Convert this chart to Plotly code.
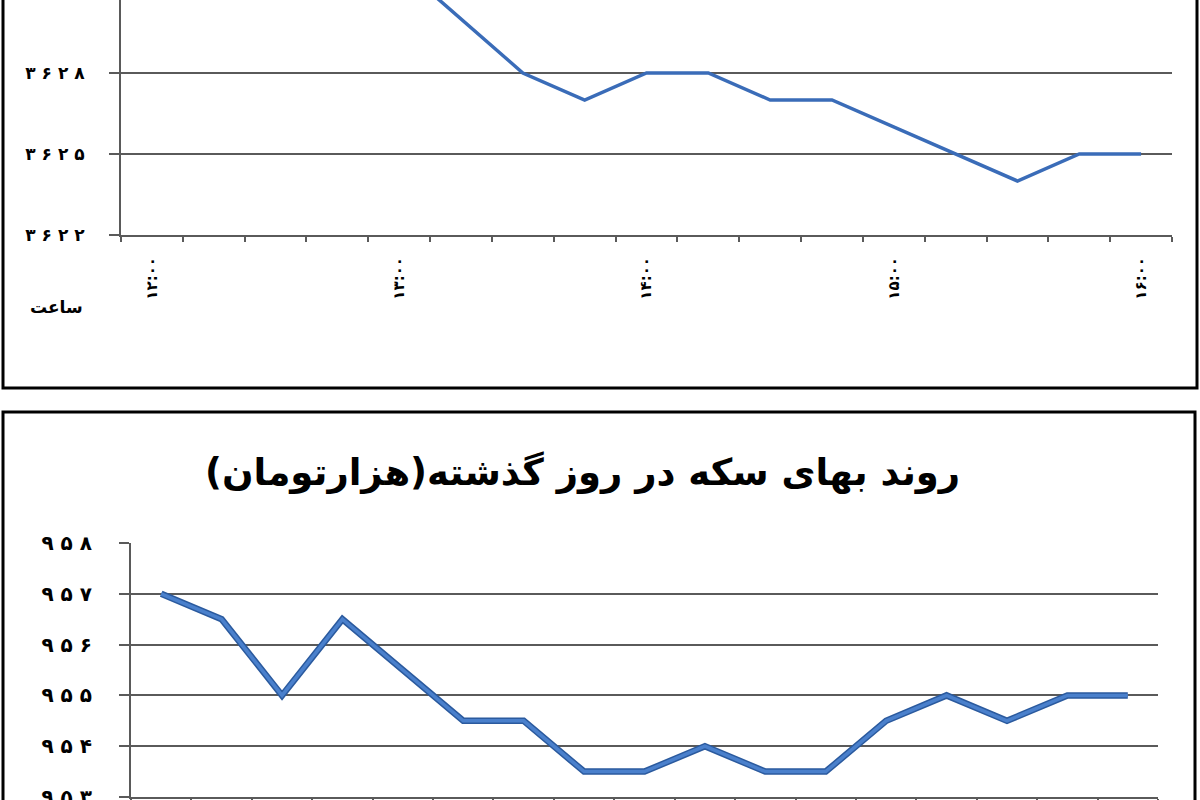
"""
Coin / currency price trend charts (two stacked panels, second one cut off)
"""

import plotly.graph_objects as go

# 15-minute samples between 12:00 and 16:00
times = ["12:00", "12:15", "12:30", "12:45",
         "13:00", "13:15", "13:30", "13:45",
         "14:00", "14:15", "14:30", "14:45",
         "15:00", "15:15", "15:30", "15:45",
         "16:00"]

# top panel (first values are above the visible area)
top_values = [3634, 3634, 3633, 3633, 3632, 3630, 3628, 3627, 3628, 3628,
              3627, 3627, 3626, 3625, 3624, 3625, 3625]
top_yticks = [3622, 3625, 3628]

# bottom panel: coin price (thousand toman)
coin_values = [957, 956.5, 955, 956.5, 955.5, 954.5, 954.5, 953.5, 953.5, 954,
               953.5, 953.5, 954.5, 955, 954.5, 955, 955]
coin_yticks = [953, 954, 955, 956, 957, 958]

coin_title = "روند بهای سکه در روز گذشته(هزارتومان)"
hour_label = "ساعت"

FA_DIGITS = str.maketrans("0123456789", "۰۱۲۳۴۵۶۷۸۹")


def fa(s, spaced=False):
    """Latin digits -> Persian digits"""
    s = str(s).translate(FA_DIGITS)
    return " ".join(s) if spaced else s


W, H = 1200, 800
GRID = "#5a5a5a"
BLUE = "#3a6cb8"
FONT = "DejaVu Sans"


def px_x(a, b):
    return [a / W, b / W]


def px_y(top, bottom):
    return [1 - bottom / H, 1 - top / H]


fig = go.Figure()

fig.add_trace(go.Scatter(
    x=times, y=top_values, mode="lines",
    line=dict(color=BLUE, width=3.5),
    xaxis="x", yaxis="y", showlegend=False
))

# darker edge under the bottom line
fig.add_trace(go.Scatter(
    x=times, y=coin_values, mode="lines",
    line=dict(color="#2b5a9e", width=6.5),
    xaxis="x2", yaxis="y2", showlegend=False
))
fig.add_trace(go.Scatter(
    x=times, y=coin_values, mode="lines",
    line=dict(color="#4a80cc", width=3.5),
    xaxis="x2", yaxis="y2", showlegend=False
))

tick_text = [fa(t) if i % 4 == 0 else "" for i, t in enumerate(times)]

common_x = dict(
    type="category", categoryorder="array", categoryarray=times,
    range=[-0.5, len(times) - 0.5],
    tickmode="array", tickvals=times, tickson="boundaries",
    ticks="outside", ticklen=5, tickwidth=2, tickcolor=GRID,
    showline=True, linecolor=GRID, linewidth=2,
    showgrid=False, zeroline=False, fixedrange=True, automargin=False,
)
common_y = dict(
    tickmode="array", ticks="outside", ticklen=10, tickwidth=2, tickcolor=GRID,
    showline=True, linecolor=GRID, linewidth=2, ticklabeloverflow="allow",
    showgrid=True, gridcolor=GRID, gridwidth=2, zeroline=False, automargin=False,
)

fig.update_layout(
    template="none",
    width=W, height=H,
    margin=dict(l=0, r=0, t=0, b=0, pad=0, autoexpand=False),
    paper_bgcolor="white", plot_bgcolor="white",
    font=dict(family=FONT, color="black"),
    xaxis=dict(
        common_x, domain=px_x(121, 1172), anchor="y",
        ticktext=tick_text, tickangle=-90,
        tickfont=dict(size=15, weight="bold"), ticklabelstandoff=14,
    ),
    yaxis=dict(
        common_y, domain=px_y(0, 235), anchor="x",
        range=[3622, 3622 + 235 / 27],
        tickvals=top_yticks, ticktext=[fa(v, True) for v in top_yticks],
        tickfont=dict(size=17, weight="bold"), ticklabelstandoff=21,
    ),
    xaxis2=dict(
        common_x, domain=px_x(131, 1158), anchor="y2",
        showticklabels=False,
    ),
    yaxis2=dict(
        common_y, domain=px_y(543, 797), anchor="x2",
        range=[953, 958],
        tickvals=coin_yticks, ticktext=[fa(v, True) for v in coin_yticks],
        tickfont=dict(size=20, weight="bold"), ticklabelstandoff=23,
    ),
    annotations=[
        dict(text=hour_label, x=56 / W, y=1 - 307 / H, xref="paper", yref="paper",
             xanchor="center", yanchor="middle",
             showarrow=False, font=dict(size=17, weight="bold")),
        dict(text=coin_title, x=582 / W, y=1 - 472 / H, xref="paper", yref="paper",
             xanchor="center", yanchor="middle",
             showarrow=False, font=dict(size=37, weight="bold")),
    ],
    shapes=[
        # frames of the two panels
        dict(type="rect", xref="paper", yref="paper",
             x0=3 / W, x1=1197 / W, y0=1 - 388 / H, y1=1.05,
             line=dict(color="black", width=3)),
        dict(type="rect", xref="paper", yref="paper",
             x0=3 / W, x1=1195 / W, y0=-0.05, y1=1 - 412 / H,
             line=dict(color="black", width=3)),
    ],
)

# drop the default 8px page margin so the figure sits at the window corner
fig.write_html("out.html", config={"displayModeBar": False},
               post_script="document.body.style.margin = '0px';")
